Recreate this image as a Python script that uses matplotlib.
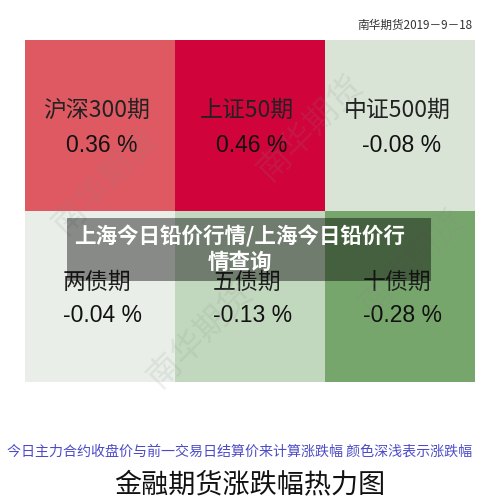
import numpy as np
import matplotlib
matplotlib.use('Agg')
import matplotlib.pyplot as plt
from matplotlib.colors import LinearSegmentedColormap

plt.rcParams['font.family'] = ['Noto Sans CJK SC', 'DejaVu Sans']

# --- Data ---
names = [['沪深300期', '上证50期', '中证500期'],
         ['两债期', '五债期', '十债期']]
changes = np.array([[0.36, 0.46, -0.08],
                    [-0.04, -0.13, -0.28]])

date_label = '南华期货2019－9－18'
note = '今日主力合约收盘价与前一交易日结算价来计算涨跌幅 颜色深浅表示涨跌幅'
title = '金融期货涨跌幅热力图'
banner = '上海今日铅价行情/上海今日铅价行\n情查询'
watermark = '南华期货'

# colour scale: dark green (fall) -> pale -> deep red (rise)
cmap = LinearSegmentedColormap.from_list('chg', [
    (0.00, '#77A66C'),   # -0.28
    (0.203, '#C4D9C0'),  # -0.13
    (0.270, '#D9E4D6'),  # -0.08
    (0.324, '#EAF0E9'),  # -0.04
    (0.865, '#E05B63'),  # 0.36
    (1.00, '#D0033B'),   # 0.46
])

# --- Plot ---
fig = plt.figure(figsize=(5, 5), dpi=100)
ax = fig.add_axes([0, 0, 1, 1])
ax.set_xlim(0, 500)
ax.set_ylim(500, 0)
ax.axis('off')

x0, x1, y0, y1 = 25, 475, 40, 382
ax.imshow(changes, cmap=cmap, vmin=-0.28, vmax=0.46,
          extent=(x0, x1, y1, y0), aspect='auto', interpolation='nearest')

cw = (x1 - x0) / 3
ch = (y1 - y0) / 2
for r in range(2):
    for c in range(3):
        left = x0 + c * cw
        top = y0 + r * ch
        txt = '%.2f %%' % changes[r, c]
        if r == 0:
            ax.text(left + cw / 2 - 3, top + 70, names[r][c], fontsize=16.5,
                    ha='center', va='center', color='#222222')
            ax.text(left + cw / 2 + 2, top + 105, txt, fontsize=16.5,
                    ha='center', va='center', color='#111111',
                    family=['Liberation Sans'])
        else:
            ax.text(left + 38, top + 71, names[r][c], fontsize=16.5,
                    ha='left', va='center', color='#222222')
            ax.text(left + 38, top + 104, txt, fontsize=16.5,
                    ha='left', va='center', color='#111111',
                    family=['Liberation Sans'])

# faint diagonal watermarks
for wx, wy in [(105, 182), (310, 128), (200, 335), (412, 262)]:
    ax.text(wx, wy, watermark, fontsize=24, rotation=45, ha='center',
            va='center', color='#888888', alpha=0.15)

# banner overlay
ax.add_patch(plt.Rectangle((67, 218), 364, 63, color='black', alpha=0.42,
                           lw=0, zorder=5))
ax.text(240, 249, banner, fontsize=15.5, fontweight='bold', color='white',
        ha='center', va='center', linespacing=1.25, zorder=6)

ax.text(472, 25, date_label, fontsize=8.4, ha='right', va='center',
        color='#333333')
ax.text(240, 452, note, fontsize=10.1, ha='center', va='center',
        color='#4B4BC8')
ax.text(250, 485, title, fontsize=19.5, ha='center', va='center',
        color='#111111')

fig.savefig('out.png', dpi=100)
